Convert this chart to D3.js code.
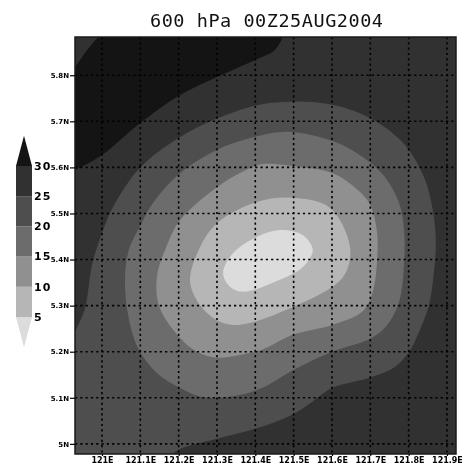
<!DOCTYPE html>
<head>
  <meta charset="utf-8">
  <script src="https://d3js.org/d3.v7.min.js"></script>
  <style>
body {
	margin:0;
	background:#fff;
	}
svg {
	display:block;
	filter: blur(0.35px);
	}
.tick text {
	font-family: "DejaVu Sans";
	font-weight: bold;
	font-size: 7px;
	fill: #000;
	}
.x.axis .tick text {
	font-size: 8px;
	}
.barLabel {
	font-family: "DejaVu Sans";
	font-weight: bold;
	font-size: 11px;
	letter-spacing: 1px;
	fill: #000;
	}
.title {
	font-family: "DejaVu Sans Mono";
	font-size: 18.5px;
	fill: #111;
	}
  </style>
</head>

<body>
  <div id="graph">
  </div>
<script>
var titleText = "600 hPa 00Z25AUG2004";

// axis ticks
var lonTicks = [121, 121.1, 121.2, 121.3, 121.4, 121.5, 121.6, 121.7, 121.8, 121.9];
var lonLabels = ["121E", "121.1E", "121.2E", "121.3E", "121.4E", "121.5E", "121.6E", "121.7E", "121.8E", "121.9E"];
var latTicks = [25, 25.1, 25.2, 25.3, 25.4, 25.5, 25.6, 25.7, 25.8];
var latLabels = ["5N", "5.1N", "5.2N", "5.3N", "5.4N", "5.5N", "5.6N", "5.7N", "5.8N"];

// wind speed levels and their greys, colour bar runs from 0 to 35
var levels = [0, 5, 10, 15, 20, 25, 30, 35];
var levelLabels = [5, 10, 15, 20, 25, 30];
var greys = ["#dcdcdc", "#b6b6b6", "#909090", "#6c6c6c", "#4e4e4e", "#313131", "#141414"];

// contour outlines, [lon, lat]
var contour30 = [[120.930,25.594],[121.000,25.627],[121.099,25.696],[121.204,25.757],[121.300,25.796],[121.399,25.833],[121.451,25.855],[121.472,25.883]];
var contour30Edge = [[120.990,25.883],[120.961,25.855],[120.930,25.818]];

var contour25 = [[120.930,25.243],[120.956,25.295],[120.974,25.388],[121.003,25.464],[121.029,25.514],[121.099,25.599],[121.204,25.666],[121.303,25.707],[121.404,25.735],[121.470,25.742],[121.548,25.742],[121.626,25.731],[121.699,25.707],[121.757,25.675],[121.801,25.638],[121.843,25.573],[121.866,25.492],[121.871,25.432],[121.866,25.373],[121.853,25.301],[121.827,25.243],[121.801,25.200],[121.764,25.167],[121.704,25.145],[121.600,25.121],[121.548,25.091],[121.496,25.063],[121.417,25.037],[121.300,25.011],[121.204,24.989],[121.183,24.978]];
var contour25Edge = [[120.930,24.978]];

var contour20 = [[121.097,25.469],[121.133,25.523],[121.204,25.588],[121.300,25.638],[121.380,25.662],[121.470,25.677],[121.548,25.670],[121.626,25.649],[121.697,25.612],[121.738,25.579],[121.775,25.523],[121.788,25.464],[121.788,25.388],[121.775,25.308],[121.744,25.258],[121.704,25.230],[121.600,25.200],[121.501,25.161],[121.417,25.121],[121.360,25.106],[121.300,25.100],[121.250,25.104],[121.204,25.121],[121.143,25.154],[121.094,25.208],[121.068,25.280],[121.060,25.360],[121.070,25.421]];

var contour15 = [[121.170,25.432],[121.204,25.486],[121.300,25.557],[121.360,25.588],[121.417,25.607],[121.496,25.603],[121.600,25.588],[121.652,25.562],[121.697,25.523],[121.717,25.464],[121.717,25.388],[121.704,25.323],[121.678,25.286],[121.600,25.258],[121.496,25.236],[121.417,25.204],[121.360,25.193],[121.300,25.187],[121.248,25.200],[121.204,25.230],[121.151,25.295],[121.143,25.360]];

var contour10 = [[121.230,25.349],[121.256,25.427],[121.300,25.479],[121.404,25.525],[121.498,25.534],[121.595,25.512],[121.647,25.427],[121.629,25.362],[121.498,25.297],[121.342,25.258],[121.274,25.284]];

var contour5 = [[121.316,25.371],[121.342,25.414],[121.404,25.449],[121.464,25.464],[121.524,25.453],[121.550,25.421],[121.524,25.384],[121.464,25.356],[121.368,25.330],[121.334,25.341]];

var svg = d3.select("#graph")
        .append("svg")
        .attr("width", 462)
        .attr("height", 470);

// Set the ranges
var x = d3.scaleLinear().domain([120.9296, 121.9236]).range([75, 456]);
var y = d3.scaleLinear().domain([24.978, 25.883]).range([454, 37]);
var barY = d3.scaleLinear().domain([5, 30]).range([317, 166]);

svg.append("clipPath").attr("id", "plotClip")
    .append("rect")
    .attr("x", x.range()[0])
    .attr("y", y.range()[1])
    .attr("width", x.range()[1] - x.range()[0])
    .attr("height", y.range()[0] - y.range()[1]);

var plot = svg.append("g").attr("clip-path", "url(#plotClip)");

// background band
plot.append("rect")
    .attr("x", x.range()[0])
    .attr("y", y.range()[1])
    .attr("width", x.range()[1] - x.range()[0])
    .attr("height", y.range()[0] - y.range()[1])
    .attr("fill", greys[5]);

var openLine = d3.line().x(function(d) { return x(d[0]); }).y(function(d) { return y(d[1]); }).curve(d3.curveCatmullRom);
var edgeLine = d3.line().x(function(d) { return x(d[0]); }).y(function(d) { return y(d[1]); });
var closedLine = d3.line().x(function(d) { return x(d[0]); }).y(function(d) { return y(d[1]); }).curve(d3.curveCatmullRomClosed);

// contours that run off the frame, curve then straight round the edge
plot.append("path")
    .attr("d", openLine(contour30) + "L" + edgeLine(contour30Edge).slice(1) + "Z")
    .attr("fill", greys[6]);
plot.append("path")
    .attr("d", openLine(contour25) + "L" + edgeLine(contour25Edge).slice(1) + "Z")
    .attr("fill", greys[4]);

// closed contours, outer to inner
var innerContours = [contour20, contour15, contour10, contour5];
innerContours.forEach(function(c, i) {
  plot.append("path")
      .attr("d", closedLine(c))
      .attr("fill", greys[3 - i]);
});

// dotted grid
plot.selectAll(".gridX")
    .data(lonTicks).enter().append("line")
    .attr("class", "gridX")
    .attr("x1", function(d) { return x(d); })
    .attr("x2", function(d) { return x(d); })
    .attr("y1", y.range()[1])
    .attr("y2", y.range()[0]);
plot.selectAll(".gridY")
    .data(latTicks).enter().append("line")
    .attr("class", "gridY")
    .attr("y1", function(d) { return y(d); })
    .attr("y2", function(d) { return y(d); })
    .attr("x1", x.range()[0])
    .attr("x2", x.range()[1]);
plot.selectAll("line")
    .style("stroke", "#000")
    .style("stroke-width", 1.6)
    .style("stroke-dasharray", "2.2 3.1");

// frame
svg.append("rect")
    .attr("x", x.range()[0])
    .attr("y", y.range()[1])
    .attr("width", x.range()[1] - x.range()[0])
    .attr("height", y.range()[0] - y.range()[1])
    .attr("fill", "none")
    .style("stroke", "#1a1a1a")
    .style("stroke-width", 1.5);

// axes
var xaxis = svg.append("g")
    .attr("class", "x axis")
    .attr("transform", "translate(0," + y.range()[0] + ")")
    .call(d3.axisBottom(x)
      .tickValues(lonTicks)
      .tickFormat(function(d, i) { return lonLabels[i]; })
      .tickSizeInner(2)
      .tickSizeOuter(0)
      .tickPadding(1));
xaxis.select(".domain").remove();

var yaxis = svg.append("g")
    .attr("class", "y axis")
    .attr("transform", "translate(" + x.range()[0] + ",0)")
    .call(d3.axisLeft(y)
      .tickValues(latTicks)
      .tickFormat(function(d, i) { return latLabels[i]; })
      .tickSizeInner(5)
      .tickSizeOuter(0)
      .tickPadding(1));
yaxis.select(".domain").remove();
svg.selectAll(".tick line").style("stroke", "#000").style("stroke-width", 1.2);

// colour bar with pointed ends
var barLeft = 16, barRight = 32;
var bar = svg.append("g");
greys.forEach(function(g, i) {
  var pts;
  var lo = barY(levels[i]), hi = barY(levels[i + 1]);
  if (i == 0) {
    pts = [[barLeft, hi], [barRight, hi], [(barLeft + barRight) / 2, lo]];
  } else if (i == greys.length - 1) {
    pts = [[barLeft, lo], [barRight, lo], [(barLeft + barRight) / 2, hi]];
  } else {
    pts = [[barLeft, lo], [barRight, lo], [barRight, hi], [barLeft, hi]];
  }
  bar.append("polygon")
      .attr("points", pts.join(" "))
      .attr("fill", g);
});

bar.selectAll(".barLabel")
    .data(levelLabels).enter().append("text")
    .attr("class", "barLabel")
    .attr("x", 34)
    .attr("y", function(d) { return barY(d); })
    .attr("dy", "0.35em")
    .text(function(d) { return d; });

// title
svg.append("text")
    .attr("class", "title")
    .attr("x", 150)
    .attr("y", 27)
    .attr("textLength", 233)
    .attr("lengthAdjust", "spacing")
    .text(titleText);
</script>
</body>
